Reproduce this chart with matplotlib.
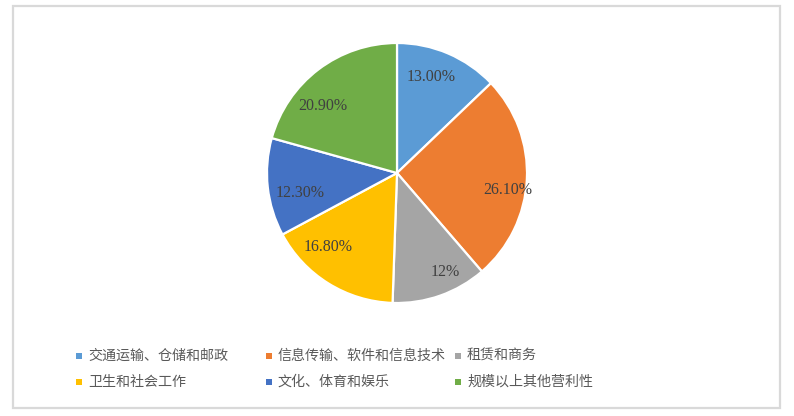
import matplotlib
matplotlib.use("Agg")
import matplotlib.pyplot as plt
from matplotlib.patches import Rectangle
import numpy as np

# data
categories = ["交通运输、仓储和邮政", "信息传输、软件和信息技术", "租赁和商务",
              "卫生和社会工作", "文化、体育和娱乐", "规模以上其他营利性"]
shares = [13.00, 26.10, 12.0, 16.80, 12.30, 20.90]
share_labels = ["13.00%", "26.10%", "12%", "16.80%", "12.30%", "20.90%"]
colors = ["#5B9BD5", "#ED7D31", "#A5A5A5", "#FFC000", "#4472C4", "#70AD47"]

# label placement tweaks (Excel "best fit" style): angle nudge in deg, radius
label_nudge = [3.6, -5.9, 6.6, -11.2, 5.6, 10.7]
label_rad = [0.78, 0.86, 0.85, 0.78, 0.76, 0.77]

W, H = 794, 416
fig = plt.figure(figsize=(W / 100, H / 100), dpi=100)
fig.patch.set_facecolor("white")

# light grey chart border
fig.patches.append(Rectangle((13 / W, 1 - 408 / H), 767 / W, 402 / H,
                             transform=fig.transFigure, fill=False,
                             edgecolor="#D9D9D9", linewidth=1.6))

# pie: centre at (397,173) px, radius ~130 px
cx, cy, r = 397, 173, 130
ax = fig.add_axes([(cx - r) / W, 1 - (cy + r) / H, 2 * r / W, 2 * r / H])
wedges, _ = ax.pie(shares, colors=colors, startangle=90, counterclock=False,
                   wedgeprops=dict(edgecolor="white", linewidth=1.6))
ax.set_xlim(-1, 1)
ax.set_ylim(-1, 1)
ax.set_aspect("auto")
ax.axis("off")

for w, lab, nd, d in zip(wedges, share_labels, label_nudge, label_rad):
    mid = np.deg2rad((w.theta1 + w.theta2) / 2 + nd)
    ax.text(d * np.cos(mid), d * np.sin(mid), lab, ha="center", va="center",
            fontsize=11.5, family="Liberation Serif", color="#404040")

# legend, two rows of three equal-width columns
col_x = [79, 269, 458]
row_y = [356, 382]
for i, (name, c) in enumerate(zip(categories, colors)):
    x = col_x[i % 3]
    y = row_y[i // 3]
    fig.patches.append(Rectangle(((x - 3) / W, 1 - (y + 3) / H), 6 / W, 6 / H,
                                 transform=fig.transFigure, facecolor=c,
                                 edgecolor="none"))
    fig.text((x + 9) / W, 1 - y / H, name, ha="left", va="center",
             fontsize=10.1, color="#595959",
             family=["Noto Sans CJK SC", "DejaVu Sans"])

fig.savefig("out.png", dpi=100, facecolor="white")
